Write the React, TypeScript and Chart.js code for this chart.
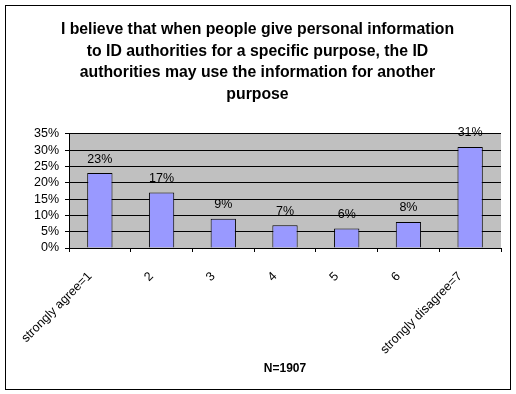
import React, { useEffect, useRef } from 'react';
import { Chart, registerables } from 'chart.js';
Chart.register(...registerables);

const TITLE_LINES = [
  'I believe that when people give personal information',
  'to ID authorities for a specific purpose, the ID',
  'authorities may use the information for another',
  'purpose',
];
const CATEGORIES = ['strongly agree=1', '2', '3', '4', '5', '6', 'strongly disagree=7'];
const VALUES = [23, 17, 9, 7, 6, 8, 31];
const Y_MAX = 35;
const Y_STEP = 5;
const X_TITLE = 'N=1907';

const FONT = 'Arial, "Liberation Sans", sans-serif';

export default function App() {
  const ref = useRef<HTMLCanvasElement>(null);
  useEffect(() => {
    const bgPlugin = {
      id: 'bg',
      beforeDraw(chart: any) {
        const { ctx, chartArea: a, width, height } = chart;
        ctx.save();
        ctx.fillStyle = '#fff';
        ctx.fillRect(0, 0, width, height);
        ctx.fillStyle = '#C0C0C0';
        ctx.fillRect(a.left, a.top, a.right - a.left, a.bottom - a.top);
        ctx.strokeStyle = '#000';
        ctx.lineWidth = 1;
        ctx.strokeRect(5.5, 5.5, 505, 384);
        ctx.restore();
      },
    };
    const labelPlugin = {
      id: 'valLabels',
      afterDatasetsDraw(chart: any) {
        const { ctx } = chart;
        const meta = chart.getDatasetMeta(0);
        ctx.save();
        ctx.font = '12.5px ' + FONT;
        ctx.fillStyle = '#000';
        ctx.textAlign = 'center';
        ctx.textBaseline = 'middle';
        meta.data.forEach((bar: any, i: number) => {
          ctx.fillText(VALUES[i] + '%', bar.x, bar.y - 14);
        });
        ctx.restore();
      },
    };
    const chart = new Chart(ref.current!, {
      type: 'bar',
      data: {
        labels: CATEGORIES,
        datasets: [
          {
            data: VALUES,
            backgroundColor: '#9999FF',
            borderColor: '#000',
            borderWidth: 1,
            categoryPercentage: 1,
            barPercentage: 0.41,
          },
        ],
      },
      options: {
        animation: false,
        responsive: false,
        layout: { padding: { top: 0, left: 14, right: 15, bottom: 0 } },
        plugins: {
          legend: { display: false },
          tooltip: { enabled: false },
          title: {
            display: true,
            text: TITLE_LINES,
            color: '#000',
            font: { family: FONT, size: 15.8, weight: 'bold', lineHeight: 1.36 },
            padding: { top: 19, bottom: 29 },
          },
        },
        scales: {
          x: {
            afterFit(scale: any) {
              scale.height = 146;
            },
            grid: { drawOnChartArea: false, drawTicks: true, tickLength: 4, color: '#000', offset: true },
            border: { color: '#000', width: 1 },
            ticks: {
              color: '#000',
              font: { family: FONT, size: 12.5 },
              minRotation: 45,
              maxRotation: 45,
              padding: 17,
              labelOffset: -10,
              autoSkip: false,
            },
            title: {
              display: true,
              text: X_TITLE,
              color: '#000',
              font: { family: FONT, size: 12, weight: 'bold' },
              padding: { top: 4, bottom: 18 },
            },
          },
          y: {
            min: 0,
            max: Y_MAX,
            afterFit(scale: any) {
              scale.width = 55;
            },
            grid: { color: '#000', lineWidth: 1, tickLength: 4 },
            border: { color: '#000', width: 1 },
            ticks: {
              stepSize: Y_STEP,
              autoSkip: false,
              color: '#000',
              font: { family: FONT, size: 12.5 },
              padding: 6,
              callback: (v: any) => v + '%',
            },
          },
        },
      },
      plugins: [bgPlugin, labelPlugin],
    });
    return () => chart.destroy();
  }, []);
  return (
    <div style={{ position: 'absolute', left: 0, top: 0, width: 516, height: 394 }}>
      <canvas ref={ref} width={516} height={394} />
    </div>
  );
}
